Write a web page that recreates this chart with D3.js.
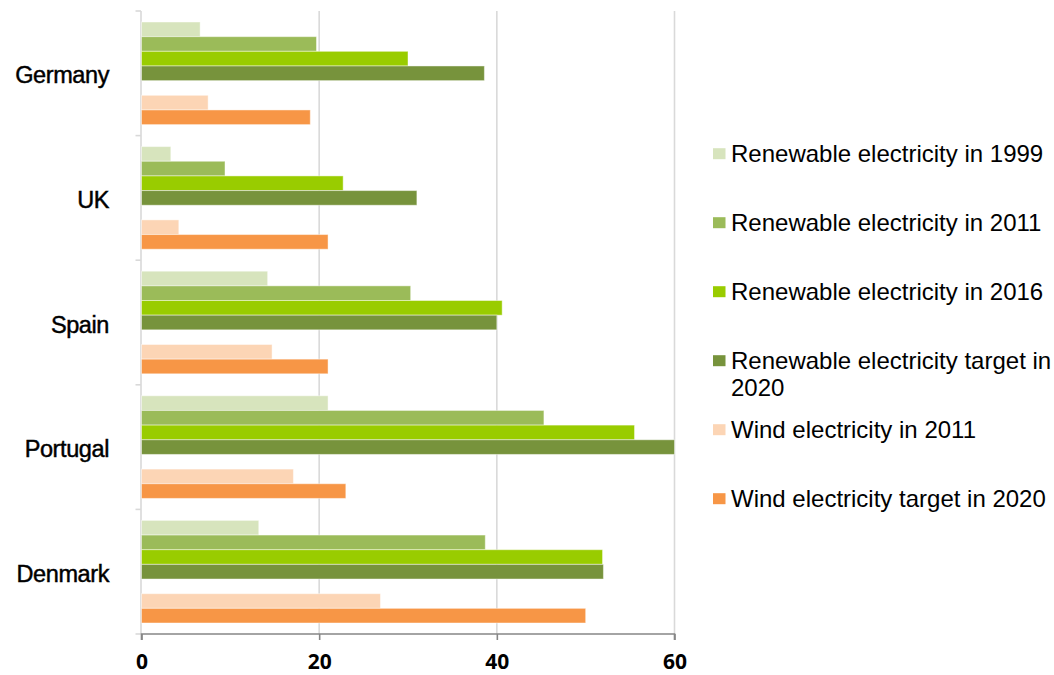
<!DOCTYPE html>
<html>
<head>
<meta charset="utf-8">
<script src="https://cdn.jsdelivr.net/npm/d3@7"></script>
<style>
  html, body { margin: 0; padding: 0; background: #ffffff; }
  svg { display: block; }
</style>
</head>
<body>
<svg id="chart" width="1054" height="675"></svg>
<script>
// Share of electricity (%) by country
const countries = ["Germany", "UK", "Spain", "Portugal", "Denmark"];
const renewable1999 = [6.6, 3.3, 14.2, 21.0, 13.2];
const renewable2011 = [19.7, 9.4, 30.3, 45.3, 38.7];
const renewable2016 = [30.0, 22.7, 40.6, 55.5, 51.9];
const renewableTarget2020 = [38.6, 31.0, 40.0, 60.0, 52.0];
const wind2011 = [7.5, 4.2, 14.7, 17.1, 26.9];
const windTarget2020 = [19.0, 21.0, 21.0, 23.0, 50.0];
const xTicks = [0, 20, 40, 60];

const series = [
  { key: "r1999", label: ["Renewable electricity in 1999"], values: renewable1999, color: "#d7e4bd" },
  { key: "r2011", label: ["Renewable electricity in 2011"], values: renewable2011, color: "#9bbb59" },
  { key: "r2016", label: ["Renewable electricity in 2016"], values: renewable2016, color: "#99cc00" },
  { key: "rT2020", label: ["Renewable electricity target in", "2020"], values: renewableTarget2020, color: "#77933c" },
  { key: "w2011", label: ["Wind electricity in 2011"], values: wind2011, color: "#fcd5b5" },
  { key: "wT2020", label: ["Wind electricity target in 2020"], values: windTarget2020, color: "#f79646" }
];

// an empty slot separates the renewable group from the wind group
const slots = ["r1999", "r2011", "r2016", "rT2020", "gap", "w2011", "wT2020"];

const svg = d3.select("#chart");

const plot = { left: 141.5, right: 674.5, top: 11, bottom: 634 };

const x = d3.scaleLinear().domain([0, 60]).range([plot.left, plot.right]);

const y = d3.scaleBand()
  .domain(countries)
  .range([plot.top, plot.bottom])
  .paddingInner(0.1765)
  .paddingOuter(0.0883);

const ySlot = d3.scaleBand()
  .domain(slots)
  .range([0, y.bandwidth()])
  .padding(0);

// vertical gridlines
svg.append("g")
  .selectAll("line")
  .data(xTicks.filter(d => d !== 0))
  .join("line")
  .attr("x1", d => x(d)).attr("x2", d => x(d))
  .attr("y1", plot.top).attr("y2", plot.bottom)
  .attr("stroke", "#d9d9d9")
  .attr("stroke-width", 1.6);

// category axis line and its boundary ticks
const bandEdges = [plot.top].concat(countries.map(c => y(c) + y.bandwidth() + y.step() * y.paddingInner() / 2));
svg.append("line")
  .attr("x1", plot.left - 0.5).attr("x2", plot.left - 0.5)
  .attr("y1", plot.top).attr("y2", plot.bottom)
  .attr("stroke", "#d9d9d9").attr("stroke-width", 1.6);
svg.append("g")
  .selectAll("line")
  .data(bandEdges)
  .join("line")
  .attr("x1", plot.left - 6).attr("x2", plot.left - 0.5)
  .attr("y1", d => d).attr("y2", d => d)
  .attr("stroke", "#d9d9d9").attr("stroke-width", 1.6);

// bars
const groups = svg.append("g")
  .selectAll("g")
  .data(countries)
  .join("g")
  .attr("transform", c => `translate(0,${y(c)})`);

groups.selectAll("rect")
  .data((c, i) => series.map(s => ({ s, v: s.values[i] })))
  .join("rect")
  .attr("x", x(0))
  .attr("y", d => ySlot(d.s.key))
  .attr("width", d => x(d.v) - x(0))
  .attr("height", ySlot.bandwidth())
  .attr("fill", d => d.s.color)
  .attr("stroke", "rgba(255,255,255,0.45)")
  .attr("stroke-width", 1);

// value axis
const xAxis = svg.append("g")
  .attr("transform", `translate(0,${plot.bottom})`)
  .call(d3.axisBottom(x).tickValues(xTicks).tickSize(6).tickPadding(14).tickFormat(d3.format("d")));
xAxis.select(".domain").attr("stroke", "#868686").attr("stroke-width", 1.6)
  .attr("d", `M${plot.left},6V0H${plot.right}V6`);
xAxis.selectAll(".tick line").attr("stroke", "#868686").attr("stroke-width", 1.6);
xAxis.selectAll(".tick text")
  .attr("fill", "#000")
  .style("font-family", "'Open Sans', sans-serif")
  .style("font-weight", "700")
  .style("font-size", "21px");

// category labels
svg.append("g")
  .selectAll("text")
  .data(countries)
  .join("text")
  .attr("x", 109)
  .attr("y", c => y(c) + y.bandwidth() / 2 + 10)
  .attr("text-anchor", "end")
  .style("font-family", "'Liberation Sans', Arial, sans-serif")
  .style("font-size", "23.5px")
  .style("letter-spacing", "-0.4px")
  .attr("fill", "#000")
  .attr("stroke", "#000")
  .attr("stroke-width", 0.45)
  .text(c => c);

// legend
const legend = svg.append("g")
  .selectAll("g")
  .data(series)
  .join("g")
  .attr("transform", (d, i) => `translate(713,${161.7 + i * 69})`);

legend.append("rect")
  .attr("x", 0).attr("y", -13.5)
  .attr("width", 12.5).attr("height", 11)
  .attr("fill", d => d.color);

legend.append("text")
  .attr("x", 18)
  .attr("y", 0)
  .style("font-family", "'Liberation Sans', Arial, sans-serif")
  .style("font-size", "24px")
  .attr("fill", "#000")
  .selectAll("tspan")
  .data(d => d.label)
  .join("tspan")
  .attr("x", 18)
  .attr("dy", (d, i) => i === 0 ? 0 : 27)
  .text(d => d);
</script>
</body>
</html>
